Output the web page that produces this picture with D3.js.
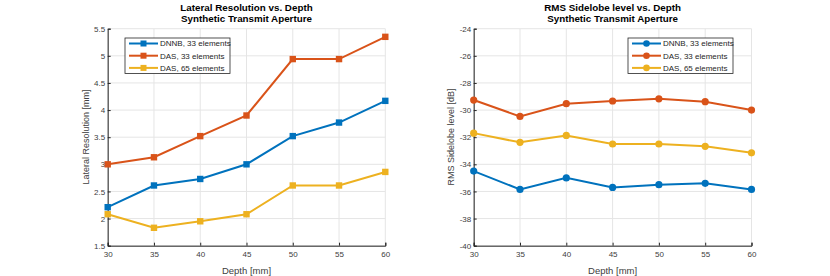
<!DOCTYPE html>
<html>
<head>
<meta charset="utf-8">
<script src="https://cdn.jsdelivr.net/npm/d3@7"></script>
<style>
  body { margin: 0; background: #fff; }
  svg { display: block; font-family: "Liberation Sans", Arial, sans-serif; }
</style>
</head>
<body>
<div id="chart"></div>
<script>
// depths shared by both panels
const depths = [30, 35, 40, 45, 50, 55, 60];

const seriesNames = ["DNNB, 33 elements", "DAS, 33 elements", "DAS, 65 elements"];

// lateral resolution [mm]
const resDNNB33 = [2.21, 2.61, 2.73, 3.0, 3.52, 3.77, 4.17];
const resDAS33 = [3.0, 3.13, 3.52, 3.9, 4.94, 4.94, 5.35];
const resDAS65 = [2.08, 1.83, 1.95, 2.08, 2.61, 2.61, 2.86];

// RMS sidelobe level [dB]
const slDNNB33 = [-34.5, -35.85, -35.0, -35.7, -35.5, -35.4, -35.85];
const slDAS33 = [-29.26, -30.47, -29.53, -29.33, -29.17, -29.38, -30.0];
const slDAS65 = [-31.7, -32.38, -31.87, -32.5, -32.5, -32.67, -33.15];

const xTicks = [30, 35, 40, 45, 50, 55, 60];
const resTicks = [1.5, 2, 2.5, 3, 3.5, 4, 4.5, 5, 5.5];
const slTicks = [-40, -38, -36, -34, -32, -30, -28, -26, -24];

const colors = ["#0072BD", "#D95319", "#EDB120"];

const width = 830, height = 276;

const svg = d3.select("#chart")
  .append("svg")
  .attr("width", width)
  .attr("height", height);

const drawPanel = (opts) => {
  const x = d3.scaleLinear([30, 60], [opts.left, opts.right]);
  const y = d3.scaleLinear(opts.yDomain, [245.7, 28.7]);
  const g = svg.append("g");

  // grid
  g.append("g")
    .selectAll("line")
    .data(xTicks)
    .join("line")
    .attr("x1", (d) => x(d)).attr("x2", (d) => x(d))
    .attr("y1", y.range()[0]).attr("y2", y.range()[1])
    .attr("stroke", "#e5e5e5").attr("stroke-width", 1);
  g.append("g")
    .selectAll("line")
    .data(opts.yTicks)
    .join("line")
    .attr("x1", x.range()[0]).attr("x2", x.range()[1])
    .attr("y1", (d) => y(d)).attr("y2", (d) => y(d))
    .attr("stroke", "#e5e5e5").attr("stroke-width", 1);

  // axes (ticks inside, like matlab)
  const xAxis = d3.axisBottom(x).tickValues(xTicks).tickSize(-3).tickPadding(6);
  const gx = g.append("g")
    .attr("transform", `translate(0,${y.range()[0]})`)
    .call(xAxis);
  const yAxis = d3.axisLeft(y).tickValues(opts.yTicks).tickSize(-3).tickPadding(2.5)
    .tickFormat(d3.format(""));
  const gy = g.append("g")
    .attr("transform", `translate(${x.range()[0]},0)`)
    .call(yAxis);
  [gx, gy].forEach((a) => {
    a.select(".domain").attr("stroke", "#262626");
    a.selectAll(".tick line").attr("stroke", "#262626");
    a.selectAll(".tick text").attr("fill", "#404040").style("font-size", "8px");
  });
  gy.selectAll(".tick text").text((d) => (d < 0 ? "-" + Math.abs(d) : d));

  // labels
  const cx = (x.range()[0] + x.range()[1]) / 2;
  g.append("text")
    .attr("x", cx).attr("y", 273.5)
    .attr("text-anchor", "middle")
    .attr("fill", "#404040").style("font-size", "9.5px")
    .text("Depth [mm]");
  g.append("text")
    .attr("transform", `translate(${opts.yLabelX},137) rotate(-90)`)
    .attr("text-anchor", "middle")
    .attr("fill", "#404040").style("font-size", "9px")
    .text(opts.yLabel);
  g.append("text")
    .attr("x", cx).attr("y", 11)
    .attr("text-anchor", "middle")
    .style("font-size", "9.8px").style("font-weight", "bold")
    .text(opts.title);
  g.append("text")
    .attr("x", cx).attr("y", 21.8)
    .attr("text-anchor", "middle")
    .style("font-size", "9.8px").style("font-weight", "bold")
    .text("Synthetic Transmit Aperture");

  const line = d3.line().x((d, i) => x(depths[i])).y((d) => y(d));

  opts.series.forEach((vals, k) => {
    g.append("path")
      .datum(vals)
      .attr("fill", "none")
      .attr("stroke", colors[k])
      .attr("stroke-width", 2)
      .attr("d", line);
    const pts = g.append("g").selectAll("g")
      .data(vals)
      .join("g");
    if (opts.square) {
      pts.append("rect")
        .attr("x", (d, i) => x(depths[i]) - 3.2)
        .attr("y", (d) => y(d) - 3.2)
        .attr("width", 6.4).attr("height", 6.4)
        .attr("fill", colors[k]);
    } else {
      pts.append("circle")
        .attr("cx", (d, i) => x(depths[i]))
        .attr("cy", (d) => y(d))
        .attr("r", 3.6)
        .attr("fill", colors[k]);
    }
  });

  // legend
  const lg = g.append("g").attr("transform", `translate(${opts.legendX},38)`);
  lg.append("rect")
    .attr("width", 105).attr("height", 35.5)
    .attr("fill", "#fff")
    .attr("stroke", "#262626").attr("stroke-width", 0.8);
  seriesNames.forEach((name, k) => {
    const ly = 5.5 + k * 12.2;
    lg.append("line")
      .attr("x1", 4).attr("x2", 33)
      .attr("y1", ly).attr("y2", ly)
      .attr("stroke", colors[k]).attr("stroke-width", 2);
    if (opts.square) {
      lg.append("rect")
        .attr("x", 18.5 - 3).attr("y", ly - 3)
        .attr("width", 6).attr("height", 6)
        .attr("fill", colors[k]);
    } else {
      lg.append("circle")
        .attr("cx", 18.5).attr("cy", ly).attr("r", 3.3)
        .attr("fill", colors[k]);
    }
    lg.append("text")
      .attr("x", 35).attr("y", ly + 2.8)
      .attr("fill", "#262626")
      .style("font-size", "8px")
      .text(name);
  });
};

drawPanel({
  left: 107.7, right: 385.3,
  yDomain: [1.5, 5.5], yTicks: resTicks,
  yLabel: "Lateral Resolution [mm]", yLabelX: 88.5,
  title: "Lateral Resolution vs. Depth",
  series: [resDNNB33, resDAS33, resDAS65],
  square: true, legendX: 125,
});

drawPanel({
  left: 473.7, right: 751.5,
  yDomain: [-40, -24], yTicks: slTicks,
  yLabel: "RMS Sidelobe level [dB]", yLabelX: 454,
  title: "RMS Sidelobe level vs. Depth",
  series: [slDNNB33, slDAS33, slDAS65],
  square: false, legendX: 628,
});
</script>
</body>
</html>
